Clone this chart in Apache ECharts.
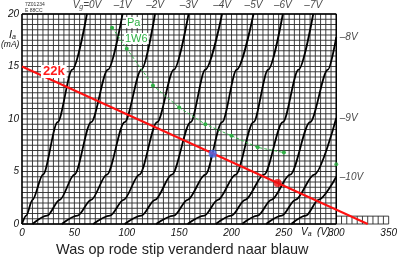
<!DOCTYPE html>
<html><head><meta charset="utf-8">
<script src="https://cdn.jsdelivr.net/npm/echarts@6/dist/echarts.min.js"></script>
<style>html,body{margin:0;padding:0;background:#fff}#c{width:400px;height:263px}</style>
</head><body><div id="c"></div>
<script>
// Anode voltage (V) vs anode current (mA) for each grid voltage
const vg0  = [[0,0],[4,0.8],[10,2.3],[20,4.7],[34,9.7],[48,14.7],[62,20]];
const vg1  = [[10,0],[24,0.8],[36,2.3],[50,4.7],[66,9.7],[82,14.7],[96,20]];
const vg2  = [[38,0],[53,0.8],[66,2.3],[81,4.7],[98,9.7],[114,14.7],[127,20]];
const vg3  = [[68,0],[84,0.8],[97,2.3],[112,4.7],[129,9.7],[145,14.7],[159,20]];
const vg4  = [[98,0],[114,0.8],[127,2.3],[143,4.7],[161,9.7],[175,14.7],[191,20]];
const vg5  = [[128,0],[145,0.8],[158,2.3],[175,4.7],[191,9.7],[205,14.7],[221,20]];
const vg6  = [[158,0],[174,0.8],[187,2.3],[204,4.7],[221,9.7],[235,14.7],[249,20]];
const vg7  = [[185,0],[200,0.8],[213,2.3],[231,4.7],[249,9.7],[264,14.7],[278,20]];
const vg8  = [[210,0],[225,0.8],[238,2.3],[256,4.7],[275,9.7],[292,14.7],[300,17.8]];
const vg9  = [[233,0],[248,0.8],[261,2.3],[279,4.7],[300,10.1]];
const vg10 = [[257,0],[271,0.8],[283,2.3],[300,4.5]];
const curves = [vg0,vg1,vg2,vg3,vg4,vg5,vg6,vg7,vg8,vg9,vg10];
const curveLabels = ['V{s|g}=0V','–1V','–2V','–3V','–4V','–5V','–6V','–7V','–8V','–9V','–10V'];

const loadLine = [[0,15],[330,0]];           // 22k load line
const powerLimit = [[86,18.7],[100,16.7],[125,13.2],[150,11.1],[175,9.5],[200,8.4],[225,7.3],[250,6.8]]; // Pa 1W6
const powerDot = [[300,5.7]];
const redDot = [[244,3.9]];
const blueDot = [[182,6.7]];

const xTicks = [0,50,100,150,200,250,300,350];
const yTicks = [0,5,10,15,20];
const gridStepV = 5, gridStepI = 0.5;
const mainMaxV = 300, mainMaxI = 20, extMaxV = 350, extMaxI = 0.75;

// grid segments
const gridSegs = [];
for (let v = 0; v <= mainMaxV + 1e-9; v += gridStepV) gridSegs.push([v,0,v,mainMaxI]);
for (let i = 0; i <= mainMaxI + 1e-9; i += gridStepI) gridSegs.push([0,i,mainMaxV,i]);
for (let v = mainMaxV + gridStepV; v <= extMaxV + 1e-9; v += gridStepV) gridSegs.push([v,0,v,extMaxI]);
gridSegs.push([mainMaxV,extMaxI,extMaxV,extMaxI]);
gridSegs.push([mainMaxV,0,extMaxV,0]);
const frameSegs = [[0,0,mainMaxV,0],[0,0,0,mainMaxI],[0,mainMaxI,mainMaxV,mainMaxI],[mainMaxV,0,mainMaxV,mainMaxI]];

const chart = echarts.init(document.getElementById('c'), null, {renderer:'canvas'});
const ital = {fontFamily:'Liberation Sans', fontStyle:'italic', fontSize:10, color:'#111'};

function segSeries(data, color, width){
  return {type:'custom', data, silent:true, z:1,
    renderItem(params, api){
      const p1 = api.coord([api.value(0), api.value(1)]);
      const p2 = api.coord([api.value(2), api.value(3)]);
      return {type:'line', shape:{x1:p1[0],y1:p1[1],x2:p2[0],y2:p2[1]}, style:{stroke:color, lineWidth:width}};
    }};
}

const series = [segSeries(gridSegs,'#2a2a2a',0.9), segSeries(frameSegs,'#000',1.4)];
curves.forEach((c,k)=>{
  series.push({type:'line', data:c, smooth:0.3, smoothMonotone:'x', showSymbol:false, z:3,
    lineStyle:{color:'#000', width:1.8}});
});
series.push({type:'scatter', z:5, symbolSize:1, itemStyle:{color:'transparent'},
  data: curves.map((c,k)=>{
    const last = c[c.length-1];
    const right = last[1] < 19.9;
    return {value:last, label:{show:true, position: right?'right':'top', distance: 3,
      formatter: curveLabels[k], ...ital,
      rich:{s:{fontFamily:'Liberation Sans', fontStyle:'italic', fontSize:7, verticalAlign:'bottom', padding:[4,0,0,0]}}}};
  })});
series.push({type:'line', data:loadLine, showSymbol:false, z:6, lineStyle:{color:'#ff1010', width:2}});
series.push({type:'line', data:powerLimit, symbol:'circle', symbolSize:4, z:6,
  lineStyle:{color:'#2fb045', width:1, type:[3,2]}, itemStyle:{color:'#2fb045'}});
series.push({type:'scatter', data:powerDot, symbolSize:4, z:6, itemStyle:{color:'#2fb045'}});
series.push({type:'scatter', data:redDot, symbolSize:8, z:7, itemStyle:{color:'#ee1010'}});
series.push({type:'scatter', data:blueDot, symbolSize:8, z:7, itemStyle:{color:'#4a6cf0'}});

const T = (left, top, style) => ({type:'text', left, top, z:100, zlevel:1, style});
chart.setOption({
  animation:false,
  grid:{left:22, top:14, width:369, height:210, containLabel:false},
  xAxis:{type:'value', min:0, max:350, interval:50,
    axisLine:{show:false}, axisTick:{show:false}, splitLine:{show:false},
    axisLabel:{...ital, margin:4, formatter:v=>xTicks.includes(v)?String(v):''}},
  yAxis:{type:'value', min:0, max:20, interval:5,
    axisLine:{show:false}, axisTick:{show:false}, splitLine:{show:false},
    axisLabel:{...ital, margin:3, formatter:v=>yTicks.includes(v)?String(v):''}},
  series,
  graphic:[
    T(25, 2, {text:'7Z01234', font:'5px Liberation Sans', fill:'#333'}),
    T(25, 8, {text:'E 88CC', font:'5px Liberation Sans', fill:'#333'}),
    T(9, 29, {text:'I{a|a}', rich:{a:{fontSize:7, fontStyle:'italic', fontFamily:'Liberation Sans', padding:[5,0,0,0]}}, font:'italic 11px Liberation Sans', fill:'#111'}),
    T(1, 40, {text:'(mA)', font:'italic 8.5px Liberation Sans', fill:'#111'}),
    T(301, 227, {text:'V{a|a}  (V)', rich:{a:{fontSize:7, fontStyle:'italic', fontFamily:'Liberation Sans', padding:[4,0,0,0]}}, font:'italic 10px Liberation Sans', fill:'#111'}),
    T(41, 65, {text:'22k', font:'bold 13px Liberation Sans', fill:'#ff1a1a', backgroundColor:'#fff', padding:[0,2,0,2]}),
    T(126, 17, {text:'Pa', font:'11px Liberation Sans', fill:'#2fb045', backgroundColor:'#fff', padding:[0,1,0,1]}),
    T(124, 33, {text:'1W6', font:'11px Liberation Sans', fill:'#2fb045', backgroundColor:'#fff', padding:[0,1,0,1]}),
    T(56, 242, {text:'Was op rode stip veranderd naar blauw', font:'14.5px Liberation Sans', fill:'#222'})
  ]
});
</script></body></html>
